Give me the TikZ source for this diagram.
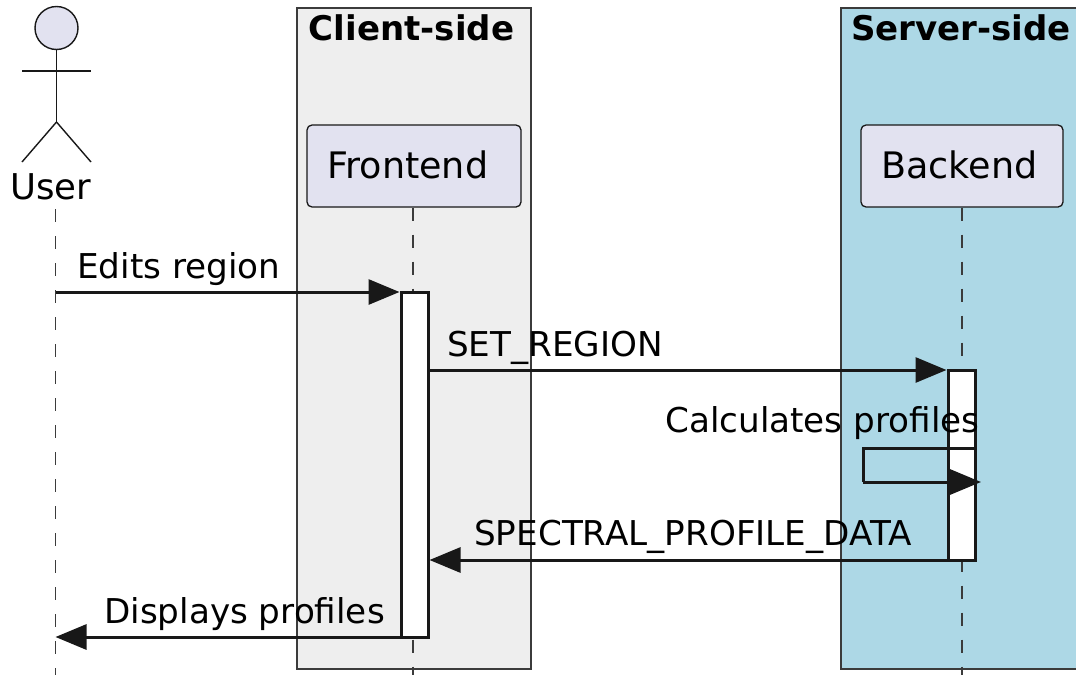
\documentclass[tikz,border=0pt]{standalone}
\usepackage{fontspec}
\setmainfont{DejaVu Sans}
\usetikzlibrary{arrows.meta}
\definecolor{ink}{HTML}{181818}
\definecolor{clientfill}{HTML}{EEEEEE}
\definecolor{serverfill}{HTML}{ADD8E6}
\definecolor{partfill}{HTML}{E2E2F0}
\tikzset{
  grp/.style={draw=ink!85, line width=1.3pt},
  grptitle/.style={font=\fontsize{34}{40}\selectfont\bfseries, anchor=base, inner sep=0pt},
  part/.style={draw=ink, fill=partfill, rounded corners=5pt, line width=1.3pt, minimum height=82pt, inner sep=0pt},
  partlbl/.style={font=\fontsize{36.5}{42}\selectfont, anchor=base west, inner sep=0pt},
  life/.style={draw=ink!85, line width=1.3pt, dash pattern=on 13pt off 14pt},
  actbox/.style={draw=ink, fill=white, line width=3pt},
  msg/.style={draw=ink, line width=3pt, -{Triangle[length=31pt,width=25pt]}},
  lbl/.style={font=\fontsize{34.2}{40}\selectfont, anchor=base west, inner sep=0pt},
  stick/.style={draw=ink, line width=1.4pt},
}
\begin{document}
\begin{tikzpicture}[x=1pt,y=-1pt]
\useasboundingbox (0,0) rectangle (1076,675);

% groups
\draw[grp, fill=clientfill] (297,8) rectangle (531,669);
\draw[grp, fill=serverfill] (841,8) rectangle (1085,669);
\node[grptitle] (clienttitle) at (411.5,40) {Client-side};
\node[grptitle] (servertitle) at (961,40) {Server-side};

% lifeline ends
\coordinate (userlifetop) at (55.5,209);
\coordinate (userlifebot) at (55.5,675);
\coordinate (frontlifebot) at (413,675);
\coordinate (backlifebot) at (962,675);

% participants
\node[part, minimum width=214pt] (front) at (414,166) {};
\node[part, minimum width=202pt] (back) at (962,166) {};
\node[partlbl] (frontlbl) at (327,178) {Frontend};
\node[partlbl] (backlbl) at (881,178) {Backend};

% lifelines
\draw[life] (userlifetop) -- (userlifebot);
\draw[life] (front.south -| frontlifebot) -- (frontlifebot);
\draw[life] (back.south -| backlifebot) -- (backlifebot);

% actor
\node[circle, draw=ink, fill=partfill, line width=1.4pt, minimum size=43pt, inner sep=0pt] (head) at (56.5,28) {};
\coordinate (hip) at (56.5,122);
\coordinate (armL) at (22,71);
\coordinate (armR) at (91,71);
\coordinate (footL) at (22,162);
\coordinate (footR) at (91,162);
\draw[stick] (head.south) -- (hip);
\draw[stick] (armL) -- (armR);
\draw[stick] (footL) -- (hip) -- (footR);
\node[font=\fontsize{35.5}{42}\selectfont, anchor=base, inner sep=0pt] (userlbl) at (50.5,199) {User};

% activations
\node[actbox, minimum width=27pt, minimum height=345pt, inner sep=0pt] (frontact) at (414.5,464.5) {};
\node[actbox, minimum width=27pt, minimum height=190pt, inner sep=0pt] (backact) at (961.5,465) {};

% messages
\coordinate (u1) at (55.5,292);
\draw[msg] (u1) -- (u1 -| frontact.west);
\draw[msg] (frontact.east |- 0,370) -- (backact.west |- 0,370);
\coordinate (selfa) at (863,448);
\coordinate (selfb) at (863,482);
\coordinate (selfend) at (981,482);
\draw[draw=ink, line width=3pt] (backact.east |- selfa) -- (selfa) -- (selfb);
\draw[msg] (selfb) -- (selfend);
\draw[msg] (backact.west |- 0,560) -- (frontact.east |- 0,560);
\coordinate (u2) at (55.5,637);
\draw[msg] (frontact.west |- u2) -- (u2);

% labels
\node[lbl] (m1) at (77,278) {Edits region};
\node[lbl] (m2) at (447,356) {SET\_REGION};
\node[lbl] (m3) at (665,432) {Calculates profiles};
\node[lbl] (m4) at (474,545) {SPECTRAL\_PROFILE\_DATA};
\node[lbl] (m5) at (104,623) {Displays profiles};
\end{tikzpicture}
\end{document}
